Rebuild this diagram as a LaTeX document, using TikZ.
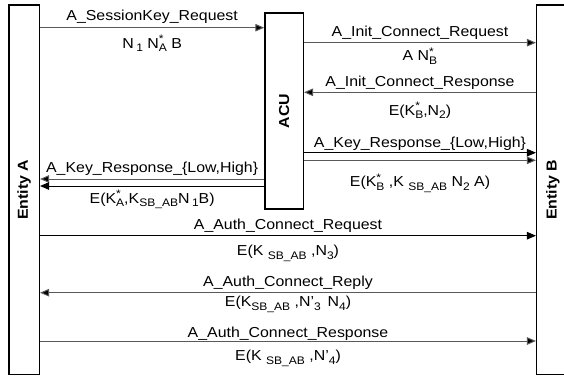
\documentclass[tikz,border=0pt]{standalone}
\usepackage{fontspec}
\setmainfont{Liberation Sans}[FakeStretch=1.1]
\usepackage{tikz}
\usetikzlibrary{arrows.meta, positioning}

\newcommand{\lo}[1]{\raisebox{-3.5bp}{\fontsize{11}{11}\selectfont #1}}
\newcommand{\hilo}[2]{\makebox[0pt][l]{\raisebox{5.5bp}{\fontsize{11}{11}\selectfont #1}}\lo{#2}}

\tikzset{
    entity/.style={draw=black, line width=1.5bp, fill=white, inner sep=0pt},
    msg/.style={line width=1bp, draw=black!65, -{Triangle[length=9bp, width=7.5bp, fill=black]}},
    lbl/.style={anchor=base, inner sep=0pt, font=\fontsize{14.5}{17}\selectfont},
    boxtext/.style={rotate=90, font=\fontsize{14.5}{17}\selectfont\bfseries}
}

\begin{document}
\begin{tikzpicture}[x=1bp, y=-1bp]
        \useasboundingbox (0,0) rectangle (564,378);

        \node[entity, minimum width=30.3bp, minimum height=369.5bp] (entA) at (24.15,189.75) {};
        \node[entity, minimum width=38.3bp, minimum height=196bp] (acu) at (284.15,111) {};
        \node[entity, minimum width=32.3bp, minimum height=369.5bp] (entB) at (552.85,189.75) {};

        \node[boxtext] (labA) at (entA.center) {Entity A};
        \node[boxtext] (labACU) at (acu.center) {ACU};
        \node[boxtext] (labB) at (entB.center) {Entity B};

        % A -> ACU
        \draw[msg] (entA.east |- 0,27.7) -- node[lbl, yshift=7bp] {A\_SessionKey\_Request} node[lbl, yshift=-20.6bp] {N\,\lo{1} N\hilo{*}{A} B} (acu.west |- 0,27.7);

        % ACU <-> B
        \draw[msg] (acu.east |- 0,42.7) -- node[lbl, yshift=6bp] {A\_Init\_Connect\_Request} node[lbl, yshift=-18bp] {A N\hilo{*}{B}} (entB.west |- 0,42.7);
        \draw[msg] (entB.west |- 0,92.3) -- node[lbl, yshift=5.6bp] {A\_Init\_Connect\_Response} node[lbl, yshift=-22.7bp] {E(K\hilo{*}{B},N\lo{2})} (acu.east |- 0,92.3);

        % key response, both ways
        \draw[msg, draw=black] (acu.east |- 0,152.7) -- node[lbl, yshift=5.4bp] {A\_Key\_Response\_\{Low,High\}} (entB.west |- 0,152.7);
        \draw[msg] (acu.east |- 0,160.3) -- node[lbl, yshift=-26.4bp] {E(K\hilo{*}{B} ,K \lo{SB\_AB} N\lo{2} A)} (entB.west |- 0,160.3);
        \draw[msg] (acu.west |- 0,179) -- node[lbl, yshift=6.3bp] {A\_Key\_Response\_\{Low,High\}} (entA.east |- 0,179);
        \draw[msg, draw=black] (acu.west |- 0,186) -- node[lbl, yshift=-17bp] {E(K\hilo{*}{A},K\lo{SB\_AB}N\,\lo{1}B)} (entA.east |- 0,186);

        % A <-> B
        \draw[msg, draw=black] (entA.east |- 0,235.7) -- node[lbl, yshift=6bp] {A\_Auth\_Connect\_Request} node[lbl, yshift=-20bp] {E(K \lo{SB\_AB} ,N\lo{3})} (entB.west |- 0,235.7);
        \draw[msg] (entB.west |- 0,292.7) -- node[lbl, yshift=6.4bp] {A\_Auth\_Connect\_Reply} node[lbl, yshift=-14bp] {E(K\lo{SB\_AB} ,N'\lo{3}\, N\lo{4})} (entA.east |- 0,292.7);
        \draw[msg] (entA.east |- 0,341) -- node[lbl, yshift=3.7bp] {A\_Auth\_Connect\_Response} node[lbl, yshift=-19.7bp] {E(K \lo{SB\_AB} ,N'\lo{4})} (entB.west |- 0,341);
    \end{tikzpicture}
\end{document}
